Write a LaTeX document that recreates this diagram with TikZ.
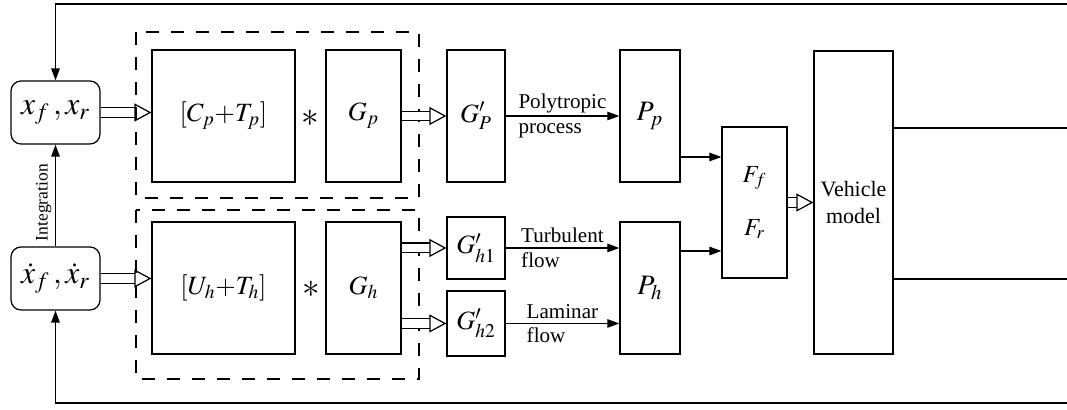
\documentclass[tikz,border=0pt]{standalone}
\usepackage{mathptmx}
\usepackage{fontspec}
\setmainfont{Liberation Serif}
\usetikzlibrary{arrows.meta,positioning}

\begin{document}
\begin{tikzpicture}[x=0.02cm, y=-0.02cm, node distance=2cm, line width=0.7pt,
      block/.style={rectangle, draw, minimum height=2.64cm, inner sep=0pt,
                    text centered, font=\fontsize{15}{18}\selectfont},
      statebox/.style={block, rounded corners=0.2cm, minimum width=1.78cm,
                    minimum height=1.26cm, font=\fontsize{18}{21}\selectfont},
      sig/.style={-{Triangle[length=0.24cm, width=0.17cm]}},
      hollow/.style={double, double distance=0.17cm,
                    -{Triangle[open, length=0.34cm, width=0.36cm, line width'=0.7pt]}},
      group/.style={dash pattern=on 0.26cm off 0.24cm, line width=1pt},
      lbl/.style={align=left, font=\fontsize{12}{14}\selectfont}]
      \useasboundingbox (0,0) rectangle (1067,409);
      % states
      \node[statebox] (xpos) at (55.5,112.5) {$x_f\,,x_r$};
      \node[statebox, below of=xpos, yshift=-1.32cm] (xvel) {$\dot x_f\,,\dot x_r$};
      % pneumatic and hydraulic parts
      \node[block, minimum width=2.86cm] (CT) at (223.5,116) {$[C_p{+}T_p]$};
      \node[block, minimum width=1.5cm, right of=CT, xshift=0.8cm] (Gp) {$G_p$};
      \node[block, minimum width=2.86cm, below of=CT, yshift=-1.44cm] (UT) {$[U_h{+}T_h]$};
      \node[block, minimum width=1.5cm, right of=UT, xshift=0.8cm] (Gh) {$G_h$};
      \node (starP) at (310,118) {\fontsize{20}{20}\selectfont$\ast$};
      \node (starH) at (311,289) {\fontsize{20}{20}\selectfont$\ast$};
      \draw[group] (136,32) rectangle (419,198);
      \draw[group] (136,210) rectangle (419,379);
      \node[block, minimum width=1.16cm, right of=Gp, xshift=0.25cm,
            font=\fontsize{15}{18}\selectfont] (Gpp) {$G'_P$};
      \node[block, minimum width=1.16cm, minimum height=1.24cm, below of=Gpp, yshift=-0.64cm,
            font=\fontsize{15}{18}\selectfont] (Gh1) {$G'_{h1}$};
      \node[block, minimum width=1.16cm, minimum height=1.3cm, below of=Gh1, yshift=0.49cm,
            font=\fontsize{15}{18}\selectfont] (Gh2) {$G'_{h2}$};
      \node[block, minimum width=1.2cm, right of=Gpp, xshift=1.48cm, font=\fontsize{16}{19}\selectfont] (Pp) {$P_p$};
      \node[block, minimum width=1.2cm, below of=Pp, yshift=-1.44cm, font=\fontsize{16}{19}\selectfont] (Ph) {$P_h$};
      \node[block, minimum width=1.3cm, minimum height=3.02cm, align=center,
            font=\fontsize{14}{16}\selectfont] (F) at (754.5,202.5) {$F_f$\\[0.5cm]$F_r$};
      \node[block, minimum width=1.58cm, minimum height=6.06cm, align=center,
            font=\fontsize{12.5}{15}\selectfont, right of=F, xshift=-0.02cm] (veh) {Vehicle\\model};
      % connectors
      \draw[hollow] (xpos.east) -- (CT.west |- xpos.east);
      \draw[hollow] (xvel.east) -- (UT.west |- xvel.east);
      \draw[hollow] (Gp.east) -- (Gpp.west);
      \draw[hollow] (Gh.east |- Gh1) -- (Gh1.west);
      \draw[hollow] (Gh.east |- Gh2) -- (Gh2.west);
      \draw[sig] (Gpp.east) -- node[lbl] (polyLbl) {Polytropic\\process} (Pp.west |- Gpp.east);
      \draw[sig] (Gh1.east) -- node[lbl] (turbLbl) {Turbulent\\flow} (Ph.west |- Gh1.east);
      \draw[sig] (Gh2.east) -- node[lbl] (lamLbl) {Laminar\\flow} (Ph.west |- Gh2.east);
      \draw[sig] ([yshift=-0.82cm]Pp.east) coordinate (ppOut) -- (ppOut -| F.west);
      \draw[sig] ([yshift=0.74cm]Ph.east) coordinate (phOut) -- (phOut -| F.west);
      \draw[hollow] (F.east) -- (veh.west |- F.east);
      % feedback
      \coordinate (outTop) at (1067,128);
      \coordinate (outBot) at (1067,279);
      \coordinate (fbTop) at (1067,4);
      \coordinate (fbBot) at (1067,403);
      \draw (veh.east |- outTop) -- (outTop);
      \draw (veh.east |- outBot) -- (outBot);
      \draw[sig] (fbTop) -| (xpos.north);
      \draw[sig] (fbBot) -| (xvel.south);
      \draw[sig] (xvel.north) -- node[pos=0.43, rotate=90, above, inner sep=2pt,
            font=\fontsize{10}{12}\selectfont] (intLbl) {Integration} (xpos.south);
    \end{tikzpicture}
\end{document}
